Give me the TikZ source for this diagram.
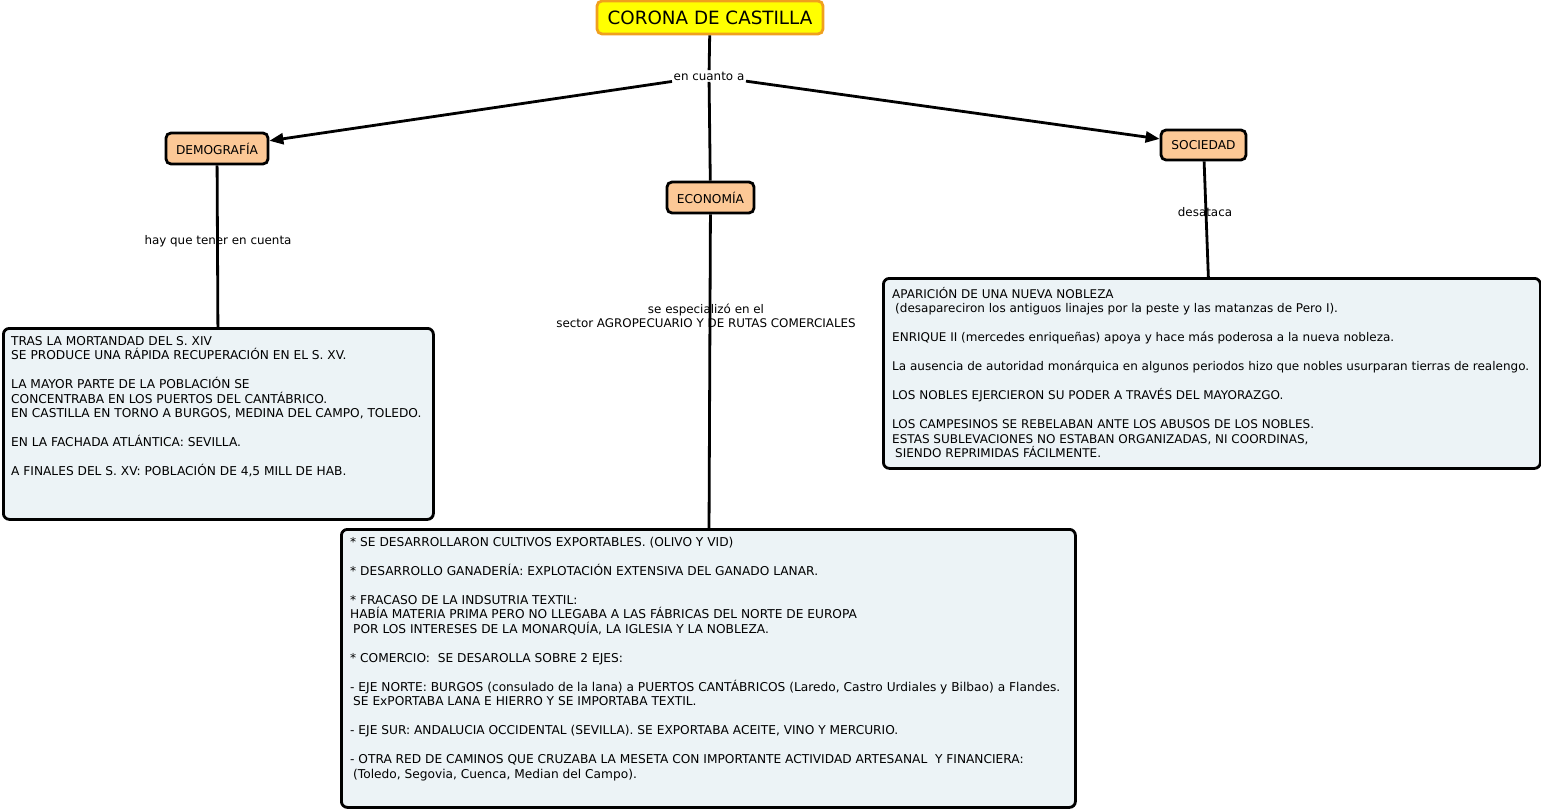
\documentclass[tikz,border=0pt]{standalone}
\usepackage{fontspec}
\setmainfont{DejaVu Sans}
\usetikzlibrary{arrows.meta}
\definecolor{titlefill}{RGB}{255,255,0}
\definecolor{titleline}{RGB}{240,160,30}
\definecolor{conceptfill}{RGB}{252,200,150}
\definecolor{boxfill}{RGB}{236,243,246}
\tikzset{
  concept/.style={draw, line width=2.8pt, rounded corners=5pt, fill=conceptfill,
    font=\fontsize{12.2}{14}\selectfont, inner sep=0pt},
  infobox/.style={draw, line width=2.8pt, rounded corners=6pt, fill=boxfill,
    anchor=north west, inner sep=0pt},
  infotext/.style={anchor=north west, align=left, inner sep=0pt,
    font=\fontsize{12.2}{14.5}\selectfont},
  linklabel/.style={font=\fontsize{11.9}{14}\selectfont, inner sep=1.5pt, align=center},
  link/.style={line width=2.8pt},
  arrowlink/.style={link, -{Triangle[length=14pt,width=11pt]}}
}
\newcommand{\firstline}{\rule{0pt}{11pt}}
\newcommand{\gap}{\\[14.5pt]}
\begin{document}
\begin{tikzpicture}[x=1pt,y=-1pt]
  \useasboundingbox (0,0) rectangle (1541,810);
  % Title and first level
  \node[draw=titleline, line width=2.8pt, rounded corners=5pt, fill=titlefill,
    minimum width=226pt, minimum height=33pt, font=\fontsize{18.3}{21}\selectfont]
    (corona) at (710,17.5) {CORONA DE CASTILLA};
  \node[linklabel] (cuanto) at (709,76) {en cuanto a};
  \node[concept, minimum width=102pt, minimum height=31pt] (demo) at (217,148.5) {DEMOGRAFÍA};
  \node[concept, minimum width=87pt, minimum height=31pt] (eco) at (710.5,197.5) {ECONOMÍA};
  \node[concept, minimum width=85pt, minimum height=30pt] (soc) at (1203.5,145) {SOCIEDAD};
  \draw[link] (corona) -- (cuanto);
  \draw[link] (cuanto) -- (eco);
  \draw[arrowlink] (cuanto) -- (demo);
  \draw[arrowlink] (cuanto) -- (soc);

  % Demografia
  \node[infobox, minimum width=430pt, minimum height=191pt] (demobox) at (2,327) {};
  \node[infotext] (demotext) at (11,334) {\firstline TRAS LA MORTANDAD DEL S. XIV\\
    SE PRODUCE UNA RÁPIDA RECUPERACIÓN EN EL S. XV.\gap
    LA MAYOR PARTE DE LA POBLACIÓN SE\\
    CONCENTRABA EN LOS PUERTOS DEL CANTÁBRICO.\\
    EN CASTILLA EN TORNO A BURGOS, MEDINA DEL CAMPO, TOLEDO.\gap
    EN LA FACHADA ATLÁNTICA: SEVILLA.\gap
    A FINALES DEL S. XV: POBLACIÓN DE 4,5 MILL DE HAB.};
  \draw[link] (demo) -- (demobox);
  \node[linklabel] (tener) at (218,241) {hay que tener en cuenta};

  % Economia
  \node[infobox, minimum width=734pt, minimum height=278pt] (ecobox) at (340,528) {};
  \node[infotext] (ecotext) at (350,535) {\firstline * SE DESARROLLARON CULTIVOS EXPORTABLES. (OLIVO Y VID)\gap
    * DESARROLLO GANADERÍA: EXPLOTACIÓN EXTENSIVA DEL GANADO LANAR.\gap
    * FRACASO DE LA INDSUTRIA TEXTIL:\\
    HABÍA MATERIA PRIMA PERO NO LLEGABA A LAS FÁBRICAS DEL NORTE DE EUROPA\\
    \hspace*{3pt}POR LOS INTERESES DE LA MONARQUÍA, LA IGLESIA Y LA NOBLEZA.\gap
    * COMERCIO:\ \ SE DESAROLLA SOBRE 2 EJES:\gap
    - EJE NORTE: BURGOS (consulado de la lana) a PUERTOS CANTÁBRICOS (Laredo, Castro Urdiales y Bilbao) a Flandes.\\
    \hspace*{3pt}SE ExPORTABA LANA E HIERRO Y SE IMPORTABA TEXTIL.\gap
    - EJE SUR: ANDALUCIA OCCIDENTAL (SEVILLA). SE EXPORTABA ACEITE, VINO Y MERCURIO.\gap
    - OTRA RED DE CAMINOS QUE CRUZABA LA MESETA CON IMPORTANTE ACTIVIDAD ARTESANAL\ \ Y FINANCIERA:\\
    \hspace*{3pt}(Toledo, Segovia, Cuenca, Median del Campo).};
  \draw[link] (eco) -- (ecobox);
  \node[linklabel] (especial) at (706,316) {se especializó en el\\
    sector AGROPECUARIO Y DE RUTAS COMERCIALES};

  % Sociedad
  \node[infobox, minimum width=657pt, minimum height=190pt] (socbox) at (882,277) {};
  \node[infotext, font=\fontsize{12}{14.5}\selectfont] (soctext) at (892,287) {\firstline APARICIÓN DE UNA NUEVA NOBLEZA\\
    \hspace*{3pt}(desapareciron los antiguos linajes por la peste y las matanzas de Pero I).\gap
    ENRIQUE II (mercedes enriqueñas) apoya y hace más poderosa a la nueva nobleza.\gap
    La ausencia de autoridad monárquica en algunos periodos hizo que nobles usurparan tierras de realengo.\gap
    LOS NOBLES EJERCIERON SU PODER A TRAVÉS DEL MAYORAZGO.\gap
    LOS CAMPESINOS SE REBELABAN ANTE LOS ABUSOS DE LOS NOBLES.\\
    ESTAS SUBLEVACIONES NO ESTABAN ORGANIZADAS, NI COORDINAS,\\
    \hspace*{3pt}SIENDO REPRIMIDAS FÁCILMENTE.};
  \draw[link] (soc) -- (socbox);
  \node[linklabel] (desataca) at (1205,212) {desataca};
\end{tikzpicture}
\end{document}
